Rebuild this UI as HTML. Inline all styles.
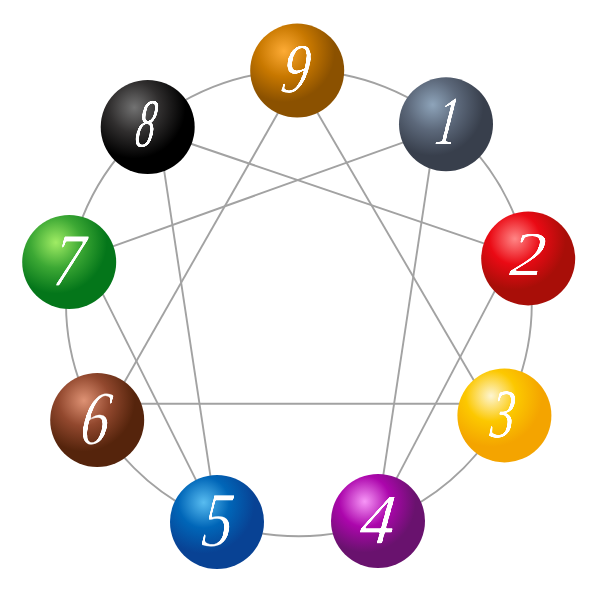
<!DOCTYPE html>
<html lang="en">
<head>
<meta charset="utf-8">
<title>Enneagram</title>
<style>
html,body{margin:0;padding:0;background:#fff;}
body{width:600px;height:600px;overflow:hidden;}
svg{display:block;}
.num{font-family:"Liberation Serif","DejaVu Serif",serif;font-style:italic;fill:#fff;text-anchor:middle;}
.ln{stroke:#a2a2a2;stroke-width:1.9;fill:none;}
</style>
</head>
<body>
<svg width="600" height="600" viewBox="0 0 600 600">
<defs>
<filter id="thin" x="-20%" y="-20%" width="140%" height="140%" color-interpolation-filters="sRGB">
<feGaussianBlur stdDeviation="0.7"/>
<feComponentTransfer><feFuncA type="linear" slope="3" intercept="-1.4"/></feComponentTransfer>
</filter>
<filter id="thinb" x="-20%" y="-20%" width="140%" height="140%" color-interpolation-filters="sRGB">
<feGaussianBlur stdDeviation="0.6"/>
<feComponentTransfer><feFuncA type="linear" slope="3" intercept="-1.05"/></feComponentTransfer>
</filter>
<radialGradient id="g9" gradientUnits="userSpaceOnUse" cx="283.9" cy="51.1" r="51"><stop offset="0" stop-color="#fdab35"/><stop offset="0.5" stop-color="#c87800"/><stop offset="1" stop-color="#8b5100"/></radialGradient>
<radialGradient id="g1" gradientUnits="userSpaceOnUse" cx="432.7" cy="104.8" r="51"><stop offset="0" stop-color="#8ea4ba"/><stop offset="0.5" stop-color="#5c687a"/><stop offset="1" stop-color="#383f4c"/></radialGradient>
<radialGradient id="g2" gradientUnits="userSpaceOnUse" cx="514.9" cy="238.9" r="51"><stop offset="0" stop-color="#ff8686"/><stop offset="0.5" stop-color="#ea0a14"/><stop offset="1" stop-color="#a80e08"/></radialGradient>
<radialGradient id="g3" gradientUnits="userSpaceOnUse" cx="491.1" cy="395.9" r="51"><stop offset="0" stop-color="#fdf5d2"/><stop offset="0.5" stop-color="#fcc800"/><stop offset="1" stop-color="#f4a400"/></radialGradient>
<radialGradient id="g4" gradientUnits="userSpaceOnUse" cx="364.7" cy="501.5" r="51"><stop offset="0" stop-color="#f796f7"/><stop offset="0.5" stop-color="#ac06ac"/><stop offset="1" stop-color="#69126e"/></radialGradient>
<radialGradient id="g5" gradientUnits="userSpaceOnUse" cx="203.7" cy="502.5" r="51"><stop offset="0" stop-color="#58bcf0"/><stop offset="0.5" stop-color="#0066b8"/><stop offset="1" stop-color="#084294"/></radialGradient>
<radialGradient id="g6" gradientUnits="userSpaceOnUse" cx="83.9" cy="400.5" r="51"><stop offset="0" stop-color="#de9274"/><stop offset="0.5" stop-color="#92482e"/><stop offset="1" stop-color="#55240c"/></radialGradient>
<radialGradient id="g7" gradientUnits="userSpaceOnUse" cx="55.9" cy="242.5" r="51"><stop offset="0" stop-color="#a0ec64"/><stop offset="0.5" stop-color="#3ca834"/><stop offset="1" stop-color="#04761a"/></radialGradient>
<radialGradient id="g8" gradientUnits="userSpaceOnUse" cx="134.4" cy="107.5" r="51"><stop offset="0" stop-color="#727272"/><stop offset="0.5" stop-color="#302e2e"/><stop offset="1" stop-color="#000000"/></radialGradient>
</defs>
<rect width="600" height="600" fill="#fff"/>
<g class="ln">
<circle cx="298.9" cy="303.4" r="232.9"/>
<line x1="289.49" y1="92.79" x2="113.21" y2="401.71"/>
<line x1="305.89" y1="92.91" x2="485.61" y2="400.59"/>
<line x1="118.00" y1="403.80" x2="483.00" y2="403.80"/>
<line x1="433.23" y1="144.28" x2="379.77" y2="498.72"/>
<line x1="505.61" y1="270.36" x2="385.39" y2="499.64"/>
<line x1="168.83" y1="136.26" x2="506.67" y2="251.04"/>
<line x1="160.56" y1="146.78" x2="213.94" y2="499.22"/>
<line x1="92.30" y1="273.15" x2="206.20" y2="500.35"/>
<line x1="90.46" y1="254.43" x2="425.04" y2="134.57"/>
</g>
<circle id="s9" cx="297.2" cy="70.6" r="47" fill="url(#g9)"/>
<circle id="s1" cx="446.0" cy="124.3" r="47" fill="url(#g1)"/>
<circle id="s2" cx="528.2" cy="258.4" r="47" fill="url(#g2)"/>
<circle id="s3" cx="504.4" cy="415.4" r="47" fill="url(#g3)"/>
<circle id="s4" cx="378.0" cy="521.0" r="47" fill="url(#g4)"/>
<circle id="s5" cx="217.0" cy="522.0" r="47" fill="url(#g5)"/>
<circle id="s6" cx="97.2" cy="420.0" r="47" fill="url(#g6)"/>
<circle id="s7" cx="69.2" cy="262.0" r="47" fill="url(#g7)"/>
<circle id="s8" cx="147.7" cy="127.0" r="47" fill="url(#g8)"/>
<text class="num" transform="matrix(0.826 0 -0.169 1.064 292.74 92.58)" font-size="66" filter="url(#thin)">9</text>
<text class="num" transform="matrix(0.662 0 -0.146 1.041 444.87 144.00)" font-size="66" filter="url(#thinb)">1</text>
<text class="num" transform="matrix(1.058 0 -0.102 0.971 526.14 275.36)" font-size="66" filter="url(#thin)">2</text>
<text class="num" transform="matrix(0.731 0 -0.110 1.050 501.01 437.38)" font-size="66" filter="url(#thinb)">3</text>
<text class="num" transform="matrix(1.045 0 -0.113 1.072 375.71 543.53)" font-size="66" filter="url(#thin)">4</text>
<text class="num" transform="matrix(0.928 0 -0.125 1.186 215.73 545.65)" font-size="66" filter="url(#thin)">5</text>
<text class="num" transform="matrix(0.857 0 -0.183 1.156 92.46 444.00)" font-size="66" filter="url(#thin)">6</text>
<text class="num" transform="matrix(0.930 0 -0.122 1.157 66.55 285.82)" font-size="66" filter="url(#thin)">7</text>
<text class="num" transform="matrix(0.582 0 -0.166 1.051 142.98 146.68)" font-size="66" filter="url(#thinb)">8</text>
</svg>
</body>
</html>
